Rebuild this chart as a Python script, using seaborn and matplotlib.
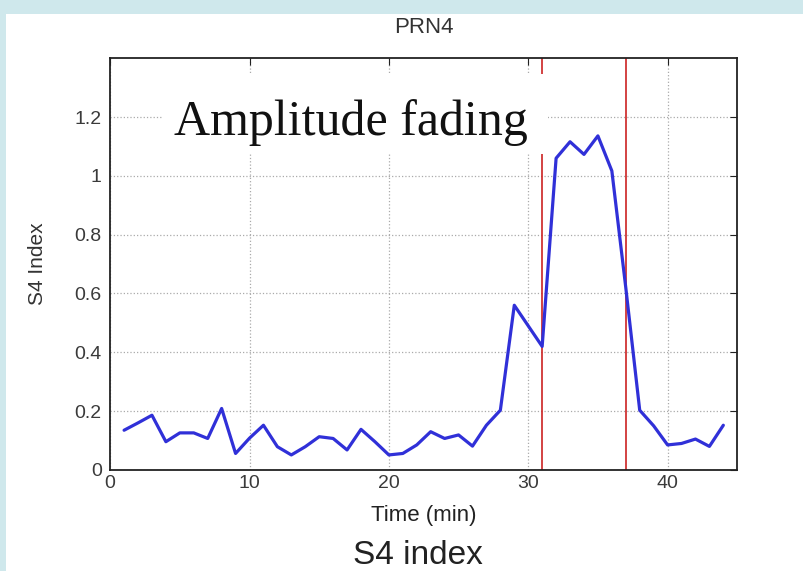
import pandas as pd
import matplotlib.pyplot as plt
import seaborn as sns
import numpy as np
from matplotlib.patches import Rectangle

# S4 index, PRN4, 1 sample per minute
minutes = list(range(1, 45))
s4_values = [0.135, 0.16, 0.186, 0.096, 0.126, 0.126, 0.107, 0.209, 0.056, 0.108,
             0.152, 0.079, 0.051, 0.079, 0.113, 0.107, 0.068, 0.138, 0.096, 0.051,
             0.056, 0.085, 0.13, 0.107, 0.119, 0.081, 0.152, 0.203, 0.56, 0.49,
             0.42, 1.06, 1.116, 1.073, 1.136, 1.017, 0.62, 0.203, 0.15, 0.085,
             0.09, 0.105, 0.08, 0.152]
fading_bounds = [31, 37]
x_ticks = [0, 10, 20, 30, 40]
y_ticks = [0, 0.2, 0.4, 0.6, 0.8, 1.0, 1.2]
y_tick_labels = ['0', '0.2', '0.4', '0.6', '0.8', '1', '1.2']

df = pd.DataFrame({'Time (min)': minutes, 'S4 Index': s4_values})

sns.set_style('white')
plt.rcParams['font.family'] = ['Liberation Sans', 'DejaVu Sans']

fig = plt.figure(figsize=(8.04, 5.71), dpi=100, facecolor='#cfe8ec')
# white slide panel (behind the axes)
fig.patches.append(Rectangle((0.007, 0), 0.993, 0.975, transform=fig.transFigure,
                             facecolor='white', edgecolor='none', zorder=-10))
ax = fig.add_axes([0.137, 0.177, 0.78, 0.721])
ax.set_facecolor('white')

sns.lineplot(data=df, x='Time (min)', y='S4 Index', color='#3030d8',
             linewidth=2.3, ax=ax, zorder=3)

for b in fading_bounds:
    ax.axvline(b, color='#cc2222', linewidth=1.2, zorder=2)

# white box behind the annotation
ax.add_patch(Rectangle((3.8, 1.075), 27.6, 0.27, facecolor='white',
                       edgecolor='none', zorder=4))
ax.text(4.6, 1.14, 'Amplitude fading', family='Liberation Serif',
        fontsize=36, color='#111111', ha='left', va='baseline', zorder=5)

ax.set_xlim(0, 45)
ax.set_ylim(0, 1.4)
ax.set_xticks(x_ticks)
ax.set_yticks(y_ticks)
ax.set_yticklabels(y_tick_labels)
ax.grid(True, linestyle=':', color='#aaaaaa', linewidth=0.9)
ax.set_axisbelow(True)
ax.tick_params(direction='in', length=5, top=True, right=True,
               labelsize=14, labelcolor='#3a3a3a', color='#222222')
ax.tick_params(axis='y', pad=6)
for s in ax.spines.values():
    s.set_color('#222222')
    s.set_linewidth(1.3)

ax.set_title('PRN4', fontsize=16, color='#333333', pad=18)
ax.set_xlabel('Time (min)', fontsize=16, color='#222222')
ax.set_ylabel('S4 Index', fontsize=15, color='#333333')
ax.xaxis.set_label_coords(0.5, -0.085)
ax.yaxis.set_label_coords(-0.1, 0.5)

fig.text(0.52, 0.012, 'S4 index', fontsize=24, color='#222222',
         ha='center', va='baseline')

plt.savefig('out.png', dpi=100, facecolor=fig.get_facecolor())
plt.close()
